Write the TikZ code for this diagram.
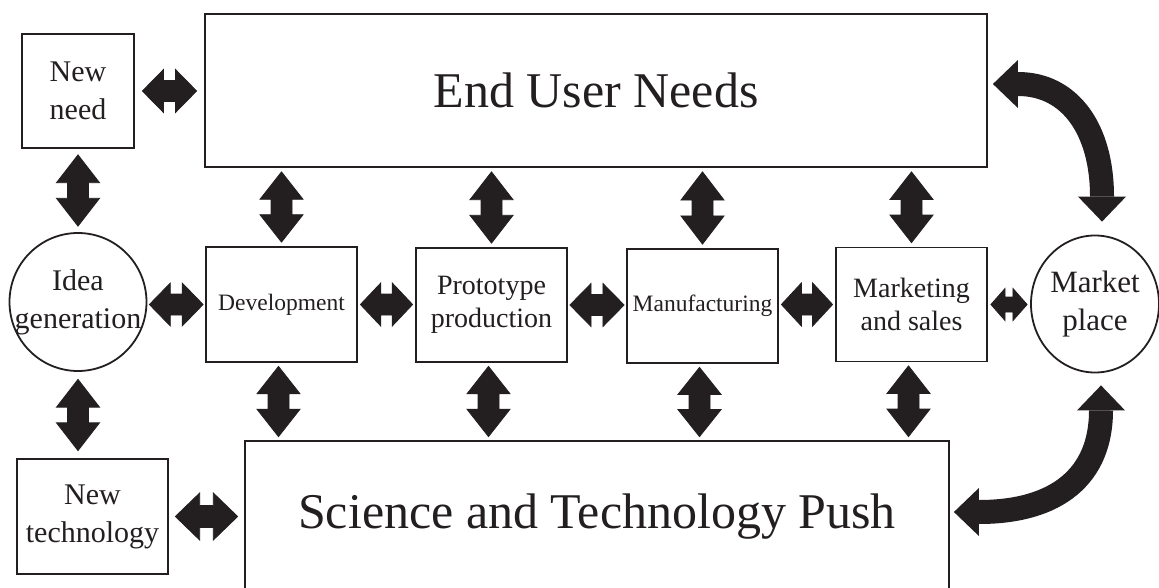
\documentclass[tikz,border=0pt]{standalone}
\usepackage{fontspec}
\setmainfont{Liberation Serif}
\usetikzlibrary{calc,arrows.meta,shapes.geometric}
\definecolor{ink}{HTML}{231F20}
\newcommand\fbig{\fontsize{50}{60}\selectfont}
\newcommand\fnew{\fontsize{30}{38}\selectfont}
\newcommand\fmid{\fontsize{28}{33}\selectfont}
\newcommand\fsml{\fontsize{23.5}{28}\selectfont}
\newcommand\fmkt{\fontsize{31}{38}\selectfont}
\tikzset{
  dblarr/.style n args={4}{draw=ink, fill=ink, line width=0.8pt, line join=miter,
    to path={let \p1=(\tikztostart), \p2=(\tikztotarget),
      \n1={veclen(\x2-\x1,\y2-\y1)},
      \n2={(\x2-\x1)/\n1}, \n3={(\y2-\y1)/\n1},
      \n4={\n1-2*(#4)}, \n5={(#3)*\n4},
      \n6={(#1)/2}, \n7={(#2)/2},
      \p3=($(\p1)!#4!(\p2)$) in
      (\p3)
      -- ({\x3+\n5*\n2-\n6*\n3},{\y3+\n5*\n3+\n6*\n2})
      -- ({\x3+\n5*\n2-\n7*\n3},{\y3+\n5*\n3+\n7*\n2})
      -- ({\x3+(\n4-\n5)*\n2-\n7*\n3},{\y3+(\n4-\n5)*\n3+\n7*\n2})
      -- ({\x3+(\n4-\n5)*\n2-\n6*\n3},{\y3+(\n4-\n5)*\n3+\n6*\n2})
      -- ({\x3+\n4*\n2},{\y3+\n4*\n3})
      -- ({\x3+(\n4-\n5)*\n2+\n6*\n3},{\y3+(\n4-\n5)*\n3-\n6*\n2})
      -- ({\x3+(\n4-\n5)*\n2+\n7*\n3},{\y3+(\n4-\n5)*\n3-\n7*\n2})
      -- ({\x3+\n5*\n2+\n7*\n3},{\y3+\n5*\n3-\n7*\n2})
      -- ({\x3+\n5*\n2+\n6*\n3},{\y3+\n5*\n3-\n6*\n2})
      -- cycle}},
  ar/.style={dblarr={43pt}{21pt}{0.39}{#1}},
  box/.style={draw=ink, line width=1.8pt, text=ink, align=center, inner sep=0pt, rectangle},
  oval/.style={draw=ink, line width=1.8pt, text=ink, align=center, inner sep=-20pt, ellipse},
  curv/.style={draw=ink, line width=24pt,
    arrows={Triangle[length=25pt,width=48pt,line width=0pt]-Triangle[length=25pt,width=48pt,line width=0pt]}}
}
\begin{document}
\begin{tikzpicture}[x=1pt,y=1pt]
\useasboundingbox (0,0) rectangle (1159,-588);
\fill[white] (0,0) rectangle (1159,-588);

\node[box, minimum width=112pt, minimum height=114pt, font=\fnew] (newneed) at (78,-91) {New\\need};
\node[box, minimum width=782pt, minimum height=153pt, font=\fbig] (eun) at (596,-90.5) {End User Needs};
\node[oval, minimum width=137pt, minimum height=138pt, font=\fnew] (idea) at (78,-302) {Idea\\generation};
\node[box, minimum width=151pt, minimum height=115pt, font=\fsml] (dev) at (281.5,-304.5) {Development};
\node[box, minimum width=151pt, minimum height=114pt, font=\fmid] (proto) at (491.5,-305) {Prototype\\production};
\node[box, minimum width=151pt, minimum height=114pt, font=\fsml] (manuf) at (702.5,-306) {Manufacturing};
\node[box, minimum width=151pt, minimum height=114pt, font=\fmid] (mkt) at (911.5,-304.5) {Marketing\\and sales};
\node[oval, minimum width=128pt, minimum height=137pt, font=\fmkt] (market) at (1095,-304) {Market\\place};
\node[box, minimum width=151pt, minimum height=115pt, font=\fnew] (newtech) at (92.5,-516.5) {New\\technology};
\node[box, minimum width=704pt, minimum height=151pt, font=\fbig] (sci) at (597,-516.5) {Science and Technology Push};

% horizontal double arrows
\draw[ar=7.5pt] (newneed.east) to (newneed.east -| eun.west);
\draw[ar=2pt] (idea.east |- dev.west) to (dev.west);
\draw[ar=2.5pt] (dev.east) to (proto.west |- dev.east);
\draw[ar=2pt] (proto.east) to (manuf.west |- proto.east);
\draw[ar=2.5pt] (manuf.east |- mkt.west) to (mkt.west);
\draw[dblarr={32pt}{15pt}{0.39}{3pt}] (mkt.east) to (market.west |- mkt.east);
\draw[dblarr={47pt}{22pt}{0.39}{6.5pt}] (newtech.east) to (sci.west |- newtech.east);

% vertical double arrows
\draw[ar=6pt] (newneed.south) to (idea.north);
\draw[ar=7.5pt] (idea.south) to (idea.south |- newtech.north);
\foreach \nd in {dev,proto,manuf,mkt}{
  \draw[ar=4pt] (eun.south -| \nd.north) to (\nd.north);
  \draw[ar=3.5pt] ($(\nd.south)+(-3,0)$) to ($(\nd.south |- sci.north)+(-3,0)$);
}

% curved arrows to the market place
\draw[curv] ([xshift=5pt,yshift=6.5pt]eun.east) to[out=0,in=90,out looseness=1.12,in looseness=1.35] ([xshift=7pt,yshift=13pt]market.north);
\draw[curv] ([xshift=6pt,yshift=-12pt]market.south) to[out=-90,in=0,out looseness=1.19,in looseness=1.36] ([xshift=4pt,yshift=4.5pt]sci.east);
\end{tikzpicture}
\end{document}
